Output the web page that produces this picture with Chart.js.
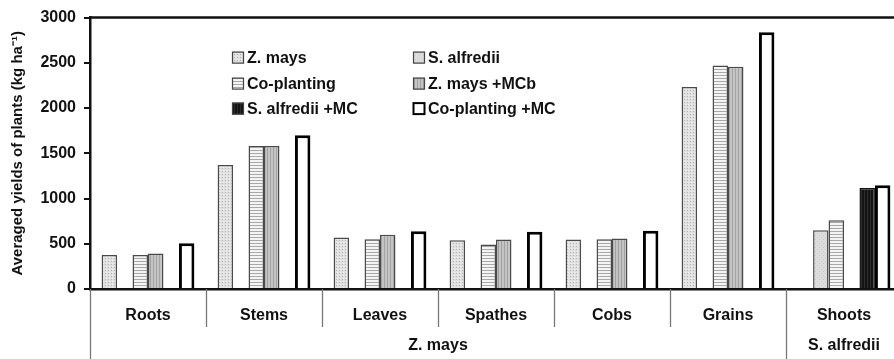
<!DOCTYPE html>
<html>
<head>
<meta charset="utf-8">
<script src="https://cdn.jsdelivr.net/npm/chart.js@4"></script>
<style>
  html, body { margin: 0; padding: 0; background: #fff; overflow: hidden; }
  #wrap { width: 894px; height: 359px; overflow: hidden; }
</style>
</head>
<body>
<div id="wrap"><canvas id="yieldChart" width="904" height="359"></canvas></div>
<script>
// ========== DADOS ==========
const partes = ['Roots', 'Stems', 'Leaves', 'Spathes', 'Cobs', 'Grains', 'Shoots'];
const grupos = ['Z. mays', 'S. alfredii'];   // segunda linha do eixo x
const gruposTamanho = [6, 1];                // quantas partes em cada grupo
const yTicks = [0, 500, 1000, 1500, 2000, 2500, 3000];

const zMays        = [375, 1370, 569, 540, 547, 2234, null];
const sAlfredii    = [null, null, null, null, null, null, 649];
const coPlanting   = [375, 1582, 551, 492, 551, 2471, 760];
const zMaysMC      = [392, 1582, 599, 547, 558, 2456, null];
const sAlfrediiMC  = [null, null, null, null, null, null, 1117];
const coPlantingMC = [507, 1700, 639, 632, 643, 2839, 1147];

const seriesNomes = ['Z. mays', 'S. alfredii', 'Co-planting', 'Z. mays +MCb', 'S. alfredii +MC', 'Co-planting +MC'];

// ========== PADRÕES ==========
function makePattern(w, h, draw) {
  const c = document.createElement('canvas');
  c.width = w; c.height = h;
  const g = c.getContext('2d');
  draw(g);
  return g.createPattern(c, 'repeat');
}

const patDots = makePattern(3, 3, g => {
  g.fillStyle = '#e0e0e0'; g.fillRect(0, 0, 3, 3);
  g.fillStyle = '#b4b4b4'; g.fillRect(0, 0, 1, 1);
  g.fillStyle = '#f2f2f2'; g.fillRect(1, 2, 1, 1);
});
const patLight = makePattern(4, 4, g => {
  g.fillStyle = '#dcdcdc'; g.fillRect(0, 0, 4, 4);
  g.fillStyle = '#cdcdcd'; g.fillRect(1, 1, 1, 1); g.fillRect(3, 3, 1, 1);
});
const patHoriz = makePattern(4, 3, g => {
  g.fillStyle = '#f4f4f4'; g.fillRect(0, 0, 4, 3);
  g.fillStyle = '#a8a8a8'; g.fillRect(0, 0, 4, 1);
});
const patVert = makePattern(3, 4, g => {
  g.fillStyle = '#c4c4c4'; g.fillRect(0, 0, 3, 4);
  g.fillStyle = '#a2a2a2'; g.fillRect(0, 0, 1, 4);
});
const patBlack = makePattern(3, 4, g => {
  g.fillStyle = '#141414'; g.fillRect(0, 0, 3, 4);
  g.fillStyle = '#2c2c2c'; g.fillRect(0, 0, 1, 4);
});

const fills = [patDots, patLight, patHoriz, patVert, patBlack, '#ffffff'];
const borders = ['#4a4a4a', '#4a4a4a', '#4a4a4a', '#4a4a4a', '#111111', '#000000'];
const borderWidths = [1.5, 1.5, 1.5, 1.5, 1.5, 3];
const seriesData = [zMays, sAlfredii, coPlanting, zMaysMC, sAlfrediiMC, coPlantingMC];

const FONT = '"Liberation Sans", Arial, sans-serif';
Chart.defaults.font.family = FONT;
Chart.defaults.color = '#111';

// ========== PLUGIN: moldura, tabela do eixo x e legenda ==========
const decorPlugin = {
  id: 'decor',
  afterDraw(chart) {
    const ctx = chart.ctx;
    const area = chart.chartArea;
    const x = chart.scales.x;
    const H = chart.height;

    ctx.save();
    // linha superior da moldura
    ctx.strokeStyle = '#111';
    ctx.lineWidth = 2.5;
    ctx.beginPath();
    ctx.moveTo(area.left, area.top);
    ctx.lineTo(area.right, area.top);
    ctx.stroke();

    // separadores entre as partes
    const half = (x.getPixelForValue(1) - x.getPixelForValue(0)) / 2;
    const bounds = partes.map((p, i) => x.getPixelForValue(i) - half);
    bounds.push(x.getPixelForValue(partes.length - 1) + half);

    const grupoInicio = [0];
    gruposTamanho.forEach((n, i) => grupoInicio.push(grupoInicio[i] + n));

    ctx.strokeStyle = '#777';
    ctx.lineWidth = 1.3;
    bounds.forEach((bx, i) => {
      const longa = grupoInicio.includes(i) && i < partes.length;
      ctx.beginPath();
      ctx.moveTo(Math.round(bx) + 0.5, area.bottom);
      ctx.lineTo(Math.round(bx) + 0.5, longa ? H : area.bottom + 38);
      ctx.stroke();
    });

    // segunda linha: nome da espécie
    ctx.fillStyle = '#111';
    ctx.font = 'bold 16px ' + FONT;
    ctx.textAlign = 'center';
    ctx.textBaseline = 'middle';
    grupos.forEach((nome, i) => {
      const x0 = bounds[grupoInicio[i]];
      const x1 = bounds[grupoInicio[i + 1]];
      ctx.fillText(nome, (x0 + x1) / 2, area.bottom + 57);
    });

    // legenda em duas colunas
    const colX = [area.left + 142, area.left + 323];
    const rowY = [area.top + 40, area.top + 66, area.top + 91];
    ctx.textAlign = 'left';
    chart.data.datasets.forEach((ds, i) => {
      const cx = colX[i % 2];
      const cy = rowY[Math.floor(i / 2)];
      ctx.fillStyle = ds.backgroundColor;
      ctx.fillRect(cx, cy - 6, 12, 12);
      ctx.strokeStyle = i === 5 ? '#000' : '#444';
      ctx.lineWidth = i === 5 ? 2 : 1.2;
      ctx.strokeRect(cx + 0.5, cy - 5.5, 11, 11);
      ctx.fillStyle = '#111';
      ctx.fillText(ds.label, cx + 15, cy + 1);
    });
    ctx.restore();
  }
};

// ========== GRÁFICO ==========
const ctx = document.getElementById('yieldChart').getContext('2d');
new Chart(ctx, {
  type: 'bar',
  data: {
    labels: partes,
    datasets: seriesNomes.map((nome, i) => ({
      label: nome,
      data: seriesData[i],
      backgroundColor: fills[i],
      borderColor: borders[i],
      borderWidth: borderWidths[i],
      borderSkipped: 'start',
      categoryPercentage: 0.8,
      barPercentage: 1.0
    }))
  },
  options: {
    responsive: false,
    animation: false,
    layout: { padding: { top: 17, right: 2, left: 0, bottom: 0 } },
    plugins: {
      legend: { display: false },
      tooltip: { enabled: false }
    },
    scales: {
      y: {
        min: 0,
        max: 3000,
        afterFit: s => { s.width = 90; },
        afterBuildTicks: s => { s.ticks = yTicks.map(v => ({ value: v })); },
        ticks: {
          font: { size: 16, weight: 'bold' },
          color: '#111',
          padding: 8,
          callback: v => String(v)
        },
        grid: { drawOnChartArea: false, drawTicks: true, tickLength: 6, color: '#111', lineWidth: 2 },
        border: { display: true, color: '#111', width: 2.5 },
        title: {
          display: true,
          text: 'Averaged yields of plants (kg ha⁻¹)',
          font: { size: 15, weight: 'bold' },
          color: '#111',
          padding: { top: 9, bottom: 0 }
        }
      },
      x: {
        afterFit: s => { s.height = 70; },
        ticks: { font: { size: 16, weight: 'bold' }, color: '#111', padding: 17, maxRotation: 0 },
        grid: { display: false, drawTicks: false },
        border: { display: true, color: '#111', width: 2.5 }
      }
    }
  },
  plugins: [decorPlugin]
});
</script>
</body>
</html>
